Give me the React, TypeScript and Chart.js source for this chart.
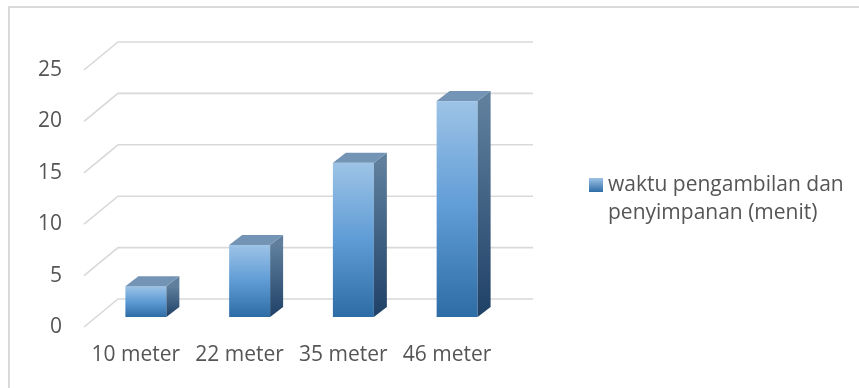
import React, { useEffect, useRef } from "react";
import { Chart, registerables } from "chart.js";

Chart.register(...registerables);

const categories = ["10 meter", "22 meter", "35 meter", "46 meter"];
const waktu = [3, 7, 15, 21];
const seriesName = "waktu pengambilan dan penyimpanan (menit)";
const legendLines = ["waktu pengambilan dan", "penyimpanan (menit)"];
const yMin = 0;
const yMax = 25;
const yStep = 5;

const FONT = "'Open Sans', 'Noto Sans', sans-serif";
const TEXT = "#555555";
const GRID = "#d9d9d9";
// oblique depth of the floor/walls
const DEPTH_X = 34;
const DEPTH_Y = -28;
// bar front face offset and bar depth
const BAR_OFF_X = 10;
const BAR_OFF_Y = -10;
const BAR_D_X = 13;
const BAR_D_Y = -10;

const framePlugin = {
  id: "frame",
  beforeDraw(chart: any) {
    const ctx = chart.ctx;
    ctx.save();
    ctx.fillStyle = "#ffffff";
    ctx.fillRect(0, 0, chart.width, chart.height);
    ctx.strokeStyle = GRID;
    ctx.lineWidth = 2;
    ctx.strokeRect(9, 7, 1000, 1000);
    ctx.restore();
  },
};

const gridPlugin = {
  id: "grid3d",
  beforeDatasetsDraw(chart: any) {
    const ctx = chart.ctx;
    const y = chart.scales.y;
    const { left, right } = chart.chartArea;
    ctx.save();
    ctx.strokeStyle = GRID;
    ctx.lineWidth = 1.6;
    y.ticks.forEach((t: any) => {
      const py = y.getPixelForValue(t.value);
      ctx.beginPath();
      ctx.moveTo(left, py);
      ctx.lineTo(left + DEPTH_X, py + DEPTH_Y);
      ctx.lineTo(right + DEPTH_X, py + DEPTH_Y);
      ctx.stroke();
    });
    ctx.restore();
  },
};

const bars3dPlugin = {
  id: "bars3d",
  afterDatasetsDraw(chart: any) {
    const ctx = chart.ctx;
    const meta = chart.getDatasetMeta(0);
    ctx.save();
    meta.data.forEach((el: any) => {
      const p = el.getProps(["x", "y", "base", "width"], true);
      const x0 = p.x - p.width / 2 + BAR_OFF_X;
      const x1 = p.x + p.width / 2 + BAR_OFF_X;
      const yt = p.y + BAR_OFF_Y;
      const yb = p.base + BAR_OFF_Y;
      // front
      const gf = ctx.createLinearGradient(0, yt, 0, yb);
      gf.addColorStop(0, "#9dc3e6");
      gf.addColorStop(0.5, "#5f9cd6");
      gf.addColorStop(1, "#2e6ca6");
      ctx.fillStyle = gf;
      ctx.fillRect(x0, yt, x1 - x0, yb - yt);
      // side
      const gs = ctx.createLinearGradient(0, yt, 0, yb);
      gs.addColorStop(0, "#5f7f9d");
      gs.addColorStop(1, "#1f4166");
      ctx.fillStyle = gs;
      ctx.beginPath();
      ctx.moveTo(x1, yt);
      ctx.lineTo(x1 + BAR_D_X, yt + BAR_D_Y);
      ctx.lineTo(x1 + BAR_D_X, yb + BAR_D_Y);
      ctx.lineTo(x1, yb);
      ctx.closePath();
      ctx.fill();
      // top
      ctx.fillStyle = "#7394b4";
      ctx.beginPath();
      ctx.moveTo(x0, yt);
      ctx.lineTo(x0 + BAR_D_X, yt + BAR_D_Y);
      ctx.lineTo(x1 + BAR_D_X, yt + BAR_D_Y);
      ctx.lineTo(x1, yt);
      ctx.closePath();
      ctx.fill();
    });
    ctx.restore();
  },
};

const legendPlugin = {
  id: "legendRight",
  afterDraw(chart: any) {
    const ctx = chart.ctx;
    const bx = 589;
    const by = 178;
    ctx.save();
    const g = ctx.createLinearGradient(0, by, 0, by + 14);
    g.addColorStop(0, "#9dc3e6");
    g.addColorStop(1, "#2e6ca6");
    ctx.fillStyle = g;
    ctx.fillRect(bx, by, 14, 14);
    ctx.fillStyle = TEXT;
    ctx.font = `21px ${FONT}`;
    ctx.textBaseline = "middle";
    ctx.textAlign = "left";
    legendLines.forEach((line, i) => {
      ctx.fillText(line, 608, 185 + i * 28);
    });
    ctx.restore();
  },
};

export default function App() {
  const ref = useRef<HTMLCanvasElement | null>(null);
  useEffect(() => {
    if (!ref.current) return;
    const chart = new Chart(ref.current, {
      type: "bar",
      data: {
        labels: categories,
        datasets: [
          {
            label: seriesName,
            data: waktu,
            backgroundColor: "rgba(0,0,0,0)",
            borderWidth: 0,
            barPercentage: 0.395,
            categoryPercentage: 1,
          },
        ],
      },
      options: {
        responsive: false,
        animation: false,
        layout: { padding: { left: 0, right: 360, top: 70, bottom: 0 } },
        plugins: { legend: { display: false }, tooltip: { enabled: false } },
        scales: {
          x: {
            grid: { display: false, drawTicks: false },
            border: { display: false },
            ticks: { color: TEXT, font: { family: FONT, size: 21 }, padding: 15, maxRotation: 0 },
            afterFit: (s: any) => {
              s.height = 61;
            },
          },
          y: {
            min: yMin,
            max: yMax,
            grid: { display: false, drawTicks: false },
            border: { display: false },
            ticks: { stepSize: yStep, color: TEXT, font: { family: FONT, size: 21 }, padding: 22 },
            afterFit: (s: any) => {
              s.width = 84;
            },
          },
        },
      },
      plugins: [framePlugin, gridPlugin, bars3dPlugin, legendPlugin],
    });
    return () => chart.destroy();
  }, []);
  return (
    <div style={{ position: "fixed", left: 0, top: 0, width: 859, height: 388, background: "#fff" }}>
      <canvas ref={ref} width={859} height={388} style={{ display: "block" }} />
    </div>
  );
}
